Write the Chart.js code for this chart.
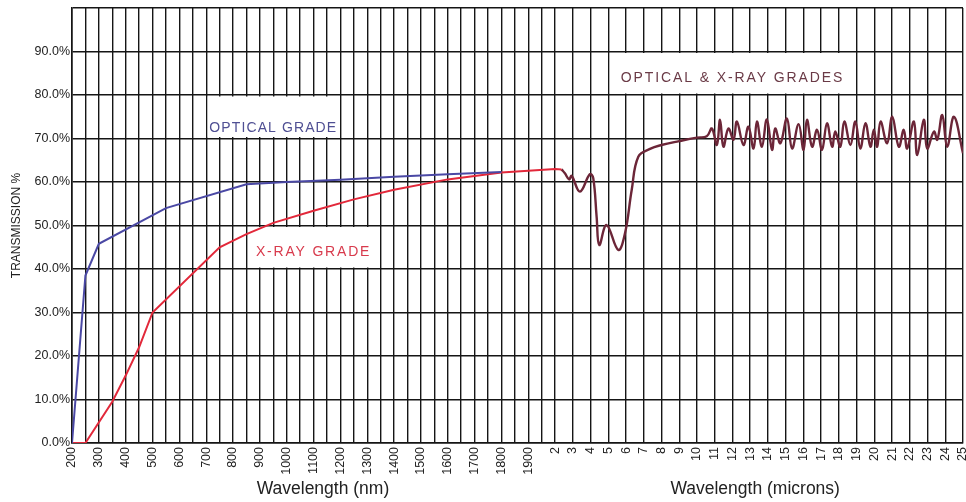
<!DOCTYPE html>
<html>
<head>
<meta charset="utf-8">
<script src="https://cdn.jsdelivr.net/npm/chart.js@4.4.1/dist/chart.umd.min.js"></script>
<style>
html, body { margin: 0; padding: 0; background: #fff; }
#wrap { width: 966px; height: 502px; }
</style>
</head>
<body>
<div id="wrap"><canvas id="chart" width="966" height="502"></canvas></div>
<script>
// Optical grade, UV/visible/NIR (nm)
const opticalNm  = [200, 250, 300, 550, 850, 1000, 1200, 1400, 1600, 1800];
const opticalPct = [0, 38.5, 45.8, 54.0, 59.5, 60.0, 60.5, 61.2, 61.8, 62.3];

// X-ray grade (nm), runs a little past 2 microns before the IR trace takes over
const xrayNm  = [200, 250, 350, 400, 450, 500, 750, 850, 950, 1100, 1250, 1400, 1600, 1800, 2000, 2360];
const xrayPct = [0, 0, 9.5, 15.5, 22.0, 30.0, 45.0, 48.0, 50.6, 53.4, 56.0, 58.2, 60.6, 62.2, 63.0, 62.9];

// Optical & X-ray grades in the IR (microns)
const irMicron = [2.36, 2.55, 2.79, 2.93, 3.40, 3.96, 4.15, 4.34, 4.49, 4.90, 5.56, 5.94, 6.32, 6.69, 7.35, 8.0, 9.0, 10.0, 10.55,
  10.84, 11.12, 11.30, 11.49, 11.77, 12.06, 12.25, 12.62, 12.90, 13.19,
  13.38, 13.66, 13.94, 14.23, 14.41, 14.70, 15.07, 15.36, 15.73, 16.01,
  16.20, 16.49, 16.77, 17.05, 17.33, 17.62, 17.80, 18.08, 18.31, 18.65,
  18.93, 19.21, 19.50, 19.78, 19.97, 20.16, 20.35, 20.72, 21.01, 21.38,
  21.66, 21.85, 22.23, 22.42, 22.79, 22.98, 23.36, 23.55, 23.83, 24.11,
  24.49, 25.0];
const irPct = [62.9, 62.0, 60.6, 61.4, 57.8, 61.8, 60.9, 52.0, 45.5, 50.1, 44.4, 48.2, 58.2, 65.8, 67.6, 68.5, 69.4, 70.2, 70.5,
  72.3, 68.5, 74.3, 68.1, 72.3, 69.7, 73.9, 68.5, 72.7, 67.7,
  73.9, 68.1, 74.4, 67.4, 72.3, 68.9, 74.6, 67.7, 73.3, 67.4,
  74.3, 68.1, 72.0, 67.4, 73.5, 68.1, 71.6, 68.1, 73.9, 68.5,
  73.9, 67.7, 73.5, 68.1, 72.0, 68.1, 73.9, 68.9, 75.0, 68.1,
  72.0, 67.7, 73.9, 66.2, 74.3, 67.7, 71.6, 69.7, 75.4, 68.1,
  75.0, 66.6];

// Tick labels
const nmLabels = ['200', '300', '400', '500', '600', '700', '800', '900', '1000', '1100',
  '1200', '1300', '1400', '1500', '1600', '1700', '1800', '1900'];
const micronLabels = ['2', '3', '4', '5', '6', '7', '8', '9', '10', '11', '12', '13', '14',
  '15', '16', '17', '18', '19', '20', '21', '22', '23', '24', '25'];

// boxed captions (wavelength in nm, transmission in %)
const notes = [
  { text: 'OPTICAL GRADE', x0: 700, x1: 1200, y0: 70, y1: 80, ty: 72.4, color: '#4f4f93', sp: 1.1 },
  { text: 'X-RAY GRADE', x0: 850, x1: 1350, y0: 40, y1: 50, ty: 43.9, color: '#d83a4c', sp: 1.8 },
  { text: 'OPTICAL & X-RAY GRADES', x0: 5000, x1: 19000, y0: 80, y1: 90, ty: 83.9, color: '#6a3a46', sp: 1.9 }
];

// the printed axis is split: 100 nm per division up to 2000 nm, then 1 micron per (narrower) division
const K = 17.70 / 26.79;
function toU(nm) {
  return nm <= 2000 ? (nm - 200) / 100 : 18 + (nm / 1000 - 2) * K;
}
const X_MAX = toU(25000);

const gridU = [];
for (let nm = 200; nm < 2000; nm += 50) gridU.push(toU(nm));
for (let um = 2; um <= 25; um++) gridU.push(toU(um * 1000));

const labelAt = {};
nmLabels.forEach(l => { labelAt[toU(+l).toFixed(4)] = l; });
micronLabels.forEach(l => { labelAt[toU(+l * 1000).toFixed(4)] = l; });

const toPts = (xs, ys, mul) => xs.map((v, i) => ({ x: toU(v * mul), y: ys[i] }));

const FONT = 'Arial, "Liberation Sans", sans-serif';
Chart.defaults.font.family = FONT;

const panelPlugin = {
  id: 'panel',
  beforeDatasetsDraw(chart) {
    const { ctx, scales: { x, y } } = chart;
    ctx.save();
    notes.forEach(n => {
      const l = x.getPixelForValue(toU(n.x0)) + 1.5;
      const r = x.getPixelForValue(toU(n.x1)) - 1.5;
      const t = y.getPixelForValue(n.y1) + 1.5;
      const b = y.getPixelForValue(n.y0) - 1.5;
      ctx.fillStyle = '#fff';
      ctx.fillRect(l, t, r - l, b - t);
      ctx.fillStyle = n.color;
      ctx.font = '14px ' + FONT;
      ctx.letterSpacing = n.sp + 'px';
      ctx.textAlign = 'center';
      ctx.textBaseline = 'middle';
      ctx.fillText(n.text, (l + r) / 2, y.getPixelForValue(n.ty));
    });
    ctx.letterSpacing = '0px';
    ctx.restore();
  },
  afterDraw(chart) {
    const { ctx, scales: { x } } = chart;
    ctx.save();
    ctx.fillStyle = '#222';
    ctx.font = '17.5px ' + FONT;
    ctx.textAlign = 'center';
    ctx.textBaseline = 'alphabetic';
    ctx.fillText('Wavelength (nm)', x.getPixelForValue(toU(1135)), 494);
    ctx.fillText('Wavelength (microns)', x.getPixelForValue(toU(13280)), 494);
    ctx.restore();
  }
};

new Chart(document.getElementById('chart'), {
  type: 'line',
  data: {
    datasets: [
      {
        label: 'Optical grade',
        data: toPts(opticalNm, opticalPct, 1),
        borderColor: '#4a48a4',
        borderWidth: 2,
        pointRadius: 0,
        tension: 0
      },
      {
        label: 'X-ray grade',
        data: toPts(xrayNm, xrayPct, 1),
        borderColor: '#e2283a',
        borderWidth: 2,
        pointRadius: 0,
        tension: 0
      },
      {
        label: 'Optical & X-ray grades',
        data: toPts(irMicron, irPct, 1000),
        borderColor: '#6c2638',
        borderWidth: 2.4,
        pointRadius: 0,
        tension: 0.4
      }
    ]
  },
  options: {
    responsive: false,
    animation: false,
    events: [],
    layout: { padding: { top: 8, right: 3, left: 0, bottom: 0 } },
    plugins: { legend: { display: false }, tooltip: { enabled: false } },
    scales: {
      x: {
        type: 'linear',
        min: 0,
        max: X_MAX,
        afterBuildTicks: axis => { axis.ticks = gridU.map(v => ({ value: v })); },
        afterFit: axis => { axis.height = 59; axis.paddingLeft = 0; axis.paddingRight = 0; },
        grid: { color: '#151515', lineWidth: 1.4, drawTicks: false },
        border: { display: true, color: '#151515', width: 1.6 },
        ticks: {
          autoSkip: false,
          minRotation: 90,
          maxRotation: 90,
          padding: 4,
          color: '#222',
          font: { size: 12.5 },
          callback: v => labelAt[v.toFixed(4)] || ''
        }
      },
      y: {
        min: 0,
        max: 100,
        afterFit: axis => { axis.width = 72; axis.paddingTop = 0; axis.paddingBottom = 0; },
        grid: { color: '#151515', lineWidth: 1.6, drawTicks: false },
        border: { display: true, color: '#151515', width: 1.6 },
        title: {
          display: true,
          text: 'TRANSMISSION %',
          color: '#222',
          font: { size: 12 },
          padding: { top: 9, bottom: 0 }
        },
        ticks: {
          stepSize: 10,
          padding: 2,
          color: '#222',
          font: { size: 12.5 },
          callback: v => (v >= 100 ? '' : v.toFixed(1) + '%')
        }
      }
    }
  },
  plugins: [panelPlugin]
});
</script>
</body>
</html>
